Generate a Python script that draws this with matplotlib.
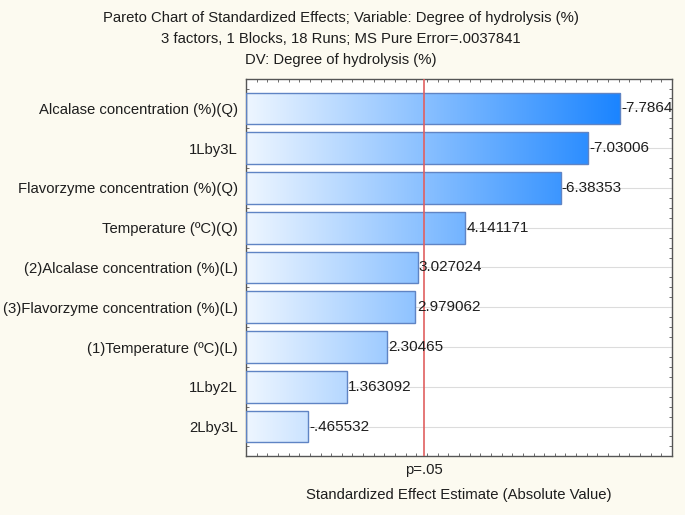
import numpy as np
import matplotlib
matplotlib.use('Agg')
import matplotlib.pyplot as plt
from matplotlib.colors import LinearSegmentedColormap
from matplotlib.ticker import MultipleLocator, NullFormatter

plt.rcParams['font.family'] = ['Liberation Sans', 'DejaVu Sans']

# Effects, largest first (as listed top to bottom)
effects = ['Alcalase concentration (%)(Q)', '1Lby3L', 'Flavorzyme concentration (%)(Q)',
           'Temperature (ºC)(Q)', '(2)Alcalase concentration (%)(L)',
           '(3)Flavorzyme concentration (%)(L)', '(1)Temperature (ºC)(L)', '1Lby2L', '2Lby3L']
abs_values = [7.7864, 7.03006, 6.38353, 4.141171, 3.027024, 2.979062, 2.30465, 1.363092, 0.465532]
value_labels = ['-7.7864', '-7.03006', '-6.38353', '4.141171', '3.027024', '2.979062',
                '2.30465', '1.363092', '-.465532']
p_crit = 3.182  # t(0.025, 3)

x_min, x_max = -1, 9
fs = 10.7
txt_col = '#1e1e1e'

fig = plt.figure(figsize=(6.85, 5.15), dpi=100, facecolor='#fcfaf0')
ax = fig.add_axes([0.3591, 0.1146, 0.9810 - 0.3591, 0.8466 - 0.1146])
ax.set_facecolor('white')

cmap = LinearSegmentedColormap.from_list('bluegrad', ['#eef6ff', '#1a84ff'])
grad = np.linspace(0, 1, 256).reshape(1, -1)
grad_end = 7.8  # value where the gradient is fully blue

ypos = np.arange(len(effects))
bar_h = 0.8

# light horizontal grid at each bar
for y in ypos:
    ax.axhline(y, color='#dcdcdc', lw=0.8, zorder=0)

bars = ax.barh(ypos, [v - x_min for v in abs_values], left=x_min, height=bar_h,
               color='none', edgecolor='#5f84c4', linewidth=1.0, zorder=3)
for bar, y in zip(bars, ypos):
    im = ax.imshow(grad, cmap=cmap, aspect='auto', extent=(x_min, grad_end, y - bar_h / 2, y + bar_h / 2),
                   interpolation='bicubic', zorder=2)
    im.set_clip_path(bar)

for y, v, lab in zip(ypos, abs_values, value_labels):
    ax.text(v + 0.03, y, lab, va='center', ha='left', fontsize=11, color=txt_col, zorder=5, clip_on=False)

ax.axvline(p_crit, color='#e06060', lw=1.2, zorder=4)

ax.set_xlim(x_min, x_max)
ax.set_ylim(len(effects) - 1 + 0.74, -0.74)

ax.set_yticks(ypos)
ax.set_yticklabels(effects, fontsize=fs, color=txt_col)
ax.set_xticks([p_crit])
ax.set_xticklabels(['p=.05'], fontsize=fs, color=txt_col)
ax.tick_params(axis='x', which='major', length=0, pad=5)
ax.tick_params(axis='y', which='major', length=0, pad=6)

# small inward ticks on the frame
ax.xaxis.set_minor_locator(MultipleLocator(0.25))
ax.yaxis.set_minor_locator(MultipleLocator(0.25))
ax.xaxis.set_minor_formatter(NullFormatter())
ax.tick_params(which='minor', direction='in', length=2, width=0.6, color='#555555',
               top=True, bottom=True, left=True, right=True)

ax.set_xlabel('Standardized Effect Estimate (Absolute Value)', fontsize=fs, color=txt_col, labelpad=8)

for s in ax.spines.values():
    s.set_color('#555555')
    s.set_linewidth(1.0)

fig.text(0.498, 0.965, 'Pareto Chart of Standardized Effects; Variable: Degree of hydrolysis (%)',
         ha='center', va='center', fontsize=fs, color=txt_col)
fig.text(0.498, 0.925, '3 factors, 1 Blocks, 18 Runs; MS Pure Error=.0037841',
         ha='center', va='center', fontsize=fs, color=txt_col)
fig.text(0.498, 0.884, 'DV: Degree of hydrolysis (%)',
         ha='center', va='center', fontsize=fs, color=txt_col)

fig.savefig('out.png', dpi=100, facecolor=fig.get_facecolor())
